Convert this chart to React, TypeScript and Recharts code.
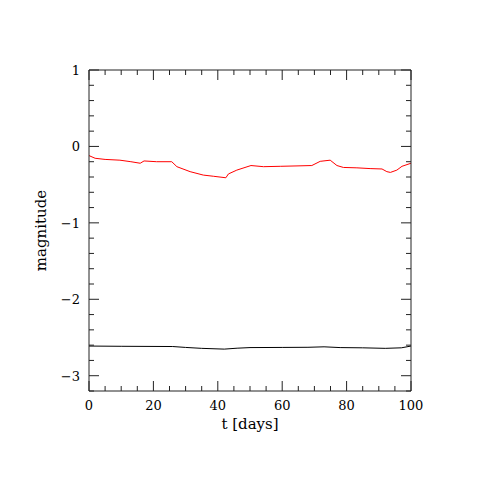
import { LineChart, Line, XAxis, YAxis } from "recharts";

// red curve: upper light curve
const redT = [0, 1.9, 5, 9.6, 13, 15.9, 17.1, 21, 25.7, 27.3, 31.4, 35.5, 38.6, 42.5, 43.3, 45.9, 50.3, 54.2, 59.4, 64.6, 69.2, 71.8, 74.9, 77, 79, 83.2, 87.3, 91, 92.5, 93.6, 95.6, 97.2, 100];
const redMag = [-0.12, -0.155, -0.17, -0.18, -0.2, -0.22, -0.19, -0.2, -0.2, -0.265, -0.33, -0.375, -0.39, -0.41, -0.36, -0.31, -0.25, -0.265, -0.26, -0.255, -0.25, -0.195, -0.18, -0.25, -0.275, -0.28, -0.29, -0.295, -0.33, -0.34, -0.31, -0.26, -0.22];

// black curve: lower light curve
const blackT = [0, 10, 26, 30, 35, 42, 46, 50, 60, 68, 73, 78, 85, 92, 97, 100];
const blackMag = [-2.612, -2.615, -2.618, -2.63, -2.642, -2.652, -2.64, -2.632, -2.63, -2.628, -2.622, -2.632, -2.635, -2.642, -2.635, -2.612];

const xTicks = [0, 5, 10, 15, 20, 25, 30, 35, 40, 45, 50, 55, 60, 65, 70, 75, 80, 85, 90, 95, 100];
const yTicks = [-3.2, -3, -2.8, -2.6, -2.4, -2.2, -2, -1.8, -1.6, -1.4, -1.2, -1, -0.8, -0.6, -0.4, -0.2, 0, 0.2, 0.4, 0.6, 0.8, 1];
const xLabels = [0, 20, 40, 60, 80, 100];
const yLabels = [1, 0, -1, -2, -3];

const redData = redT.map((t, i) => ({ t, mag: redMag[i] }));
const blackData = blackT.map((t, i) => ({ t, mag: blackMag[i] }));

const font = "DejaVu Serif";
const tickColor = "#222";
const MAJOR = 10;
const MINOR = 5;

const isMajor = (v: number, labels: number[]) => labels.some((l) => Math.abs(l - v) < 1e-6);
const fmt = (v: number) => (v < 0 ? `\u2212${Math.abs(v)}` : `${v}`);

function BottomTick({ x, y, payload }: any) {
  const major = isMajor(payload.value, xLabels);
  return (
    <g>
      <line x1={x} x2={x} y1={y} y2={y - (major ? MAJOR : MINOR)} stroke={tickColor} />
      {major && (
        <text x={x} y={y + 19} textAnchor="middle" fontSize={13} fontFamily={font} fill="#000">
          {payload.value}
        </text>
      )}
    </g>
  );
}

function TopTick({ x, y, payload }: any) {
  const major = isMajor(payload.value, xLabels);
  return <line x1={x} x2={x} y1={y} y2={y + (major ? MAJOR : MINOR)} stroke={tickColor} />;
}

function LeftTick({ x, y, payload }: any) {
  const major = isMajor(payload.value, yLabels);
  return (
    <g>
      <line x1={x} x2={x + (major ? MAJOR : MINOR)} y1={y} y2={y} stroke={tickColor} />
      {major && (
        <text x={x - 9} y={y + 5} textAnchor="end" fontSize={13} fontFamily={font} fill="#000">
          {fmt(payload.value)}
        </text>
      )}
    </g>
  );
}

function RightTick({ x, y, payload }: any) {
  const major = isMajor(payload.value, yLabels);
  return <line x1={x} x2={x - (major ? MAJOR : MINOR)} y1={y} y2={y} stroke={tickColor} />;
}

export default function App() {
  return (
    <div style={{ position: "absolute", left: 0, top: 0, width: 480, height: 480, background: "#fff" }}>
      <LineChart width={480} height={480} margin={{ top: 69, right: 68, bottom: 88, left: 88 }}>
        <XAxis
          xAxisId="b"
          dataKey="t"
          type="number"
          domain={[0, 100]}
          ticks={xTicks}
          interval={0}
          height={1}
          tickSize={0}
          tickMargin={0}
          tick={<BottomTick />}
          axisLine={{ stroke: tickColor }}
          allowDataOverflow
          label={({ viewBox }: any) => (
            <text
              x={viewBox.x + viewBox.width / 2}
              y={viewBox.y + 38}
              textAnchor="middle"
              fontSize={15}
              fontFamily={font}
              fill="#000"
            >
              t [days]
            </text>
          )}
        />
        <XAxis
          xAxisId="t"
          orientation="top"
          dataKey="t"
          type="number"
          domain={[0, 100]}
          ticks={xTicks}
          interval={0}
          height={1}
          tickSize={0}
          tickMargin={0}
          tick={<TopTick />}
          axisLine={{ stroke: tickColor }}
          allowDataOverflow
        />
        <YAxis
          yAxisId="l"
          type="number"
          domain={[-3.2, 1]}
          ticks={yTicks}
          interval={0}
          width={1}
          tickSize={0}
          tickMargin={0}
          tick={<LeftTick />}
          axisLine={{ stroke: tickColor }}
          allowDataOverflow
          label={({ viewBox }: any) => {
            const cx = viewBox.x - 42;
            const cy = viewBox.y + viewBox.height / 2;
            return (
              <text
                x={cx}
                y={cy}
                transform={`rotate(-90 ${cx} ${cy})`}
                textAnchor="middle"
                fontSize={15}
                fontFamily={font}
                fill="#000"
              >
                magnitude
              </text>
            );
          }}
        />
        <YAxis
          yAxisId="r"
          orientation="right"
          type="number"
          domain={[-3.2, 1]}
          ticks={yTicks}
          interval={0}
          width={1}
          tickSize={0}
          tickMargin={0}
          tick={<RightTick />}
          axisLine={{ stroke: tickColor }}
          allowDataOverflow
        />
        <Line
          data={redData}
          xAxisId="b"
          yAxisId="l"
          dataKey="mag"
          type="linear"
          stroke="#ff0000"
          strokeWidth={1}
          dot={false}
          isAnimationActive={false}
        />
        <Line
          data={blackData}
          xAxisId="b"
          yAxisId="l"
          dataKey="mag"
          type="linear"
          stroke="#000"
          strokeWidth={1}
          dot={false}
          isAnimationActive={false}
        />
      </LineChart>
    </div>
  );
}
